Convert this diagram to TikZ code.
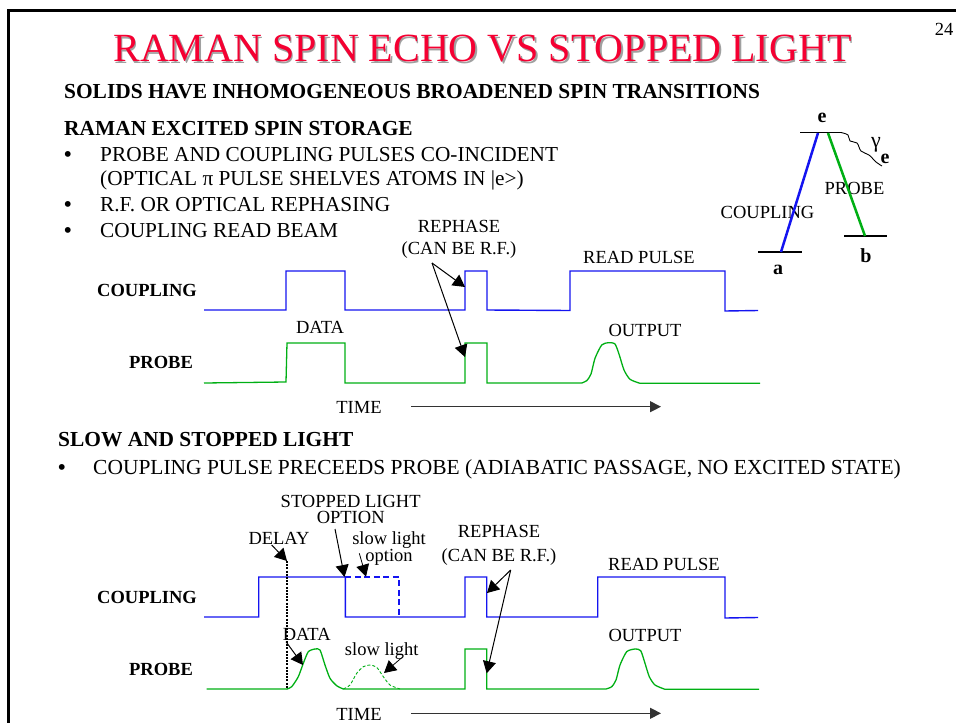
\documentclass[tikz,border=0pt]{standalone}
\usepackage{fontspec}
\setmainfont{Liberation Serif}
\usepackage{xcolor}
\usetikzlibrary{arrows.meta, positioning, calc}
\definecolor{titlered}{RGB}{245, 0, 50}
\definecolor{titleshadow}{RGB}{160, 160, 160}
\definecolor{couplingblue}{RGB}{20, 20, 240}
\definecolor{probegreen}{RGB}{0, 175, 20}

\begin{document}
\begin{tikzpicture}[
    x=1pt, y=-1pt,
    txt/.style={inner sep=0pt, anchor=base, font=\fontsize{18.5}{20}\selectfont},
    body/.style={inner sep=0pt, anchor=base west, font=\fontsize{21.3}{22}\selectfont},
    head/.style={inner sep=0pt, anchor=base west, font=\fontsize{21.4}{22}\selectfont\bfseries},
    lab/.style={inner sep=0pt, anchor=base, font=\fontsize{18.5}{20}\selectfont\bfseries},
    coupling/.style={couplingblue, line width=1.4pt},
    probe/.style={probegreen, line width=1.3pt},
    pointer/.style={-{Triangle[length=12pt, width=13pt]}, black, line width=1pt},
    timearrow/.style={-{Triangle[length=11pt, width=11pt]}, black!80, line width=1.1pt},
    level/.style={black, line width=1.3pt}
]
\useasboundingbox (0,0) rectangle (956,723);

% Frame
\draw[black, line width=3pt] (8,723) -- (8,10) -- (956,10);
\node[txt] (pagenum) at (944,35) {24};

% Title
\node[txt, font=\fontsize{40}{42}\selectfont, titleshadow] (titleback) at (484,63) {RAMAN SPIN ECHO VS STOPPED LIGHT};
\node[txt, font=\fontsize{40}{42}\selectfont, titlered] (title) at (482.5,61.5) {RAMAN SPIN ECHO VS STOPPED LIGHT};

% Raman text
\node[head] (solids) at (64,98) {SOLIDS HAVE INHOMOGENEOUS BROADENED SPIN TRANSITIONS};
\node[head] (raman) at (64,135) {RAMAN EXCITED SPIN STORAGE};
\foreach \name/\ypos/\words in {b1/161/{PROBE AND COUPLING PULSES CO-INCIDENT}, b3/211/{R.F. OR OPTICAL REPHASING}, b4/237/{COUPLING READ BEAM}}{
    \node[head] (\name dot) at (64,\ypos) {•};
    \node[body] (\name) at (100,\ypos) {\words};
}
\node[body] (b2) at (100,185) {(OPTICAL π PULSE SHELVES ATOMS IN |e>)};

% Level diagram
\coordinate (elevelL) at (800,132.5);
\coordinate (elevelR) at (841,132.5);
\draw[level] (elevelL) -- (elevelR);
\coordinate (alevelL) at (758,252);
\coordinate (alevelR) at (802,252);
\draw[level] (alevelL) -- (alevelR);
\coordinate (blevelL) at (844,236);
\coordinate (blevelR) at (887,236);
\draw[level] (blevelL) -- (blevelR);
\coordinate (etop1) at (818,133);
\coordinate (etop2) at (828,133);
\coordinate (abot) at (781,252);
\coordinate (bbot) at (865,236);
\node[txt] (couplingtag) at (767.5,218) {COUPLING};
\node[txt] (probetag) at (854.5,194) {PROBE};
\draw[couplingblue, line width=2.5pt] (abot) -- (etop1);
\draw[probegreen, line width=2.5pt] (bbot) -- (etop2);
\draw[black, line width=0.9pt] plot[smooth, tension=0.6] coordinates {(elevelR) (848,135) (850,141) (857,143) (861,151) (869,155) (876,162) (882,166)};
\node[lab, font=\fontsize{20}{22}\selectfont\bfseries] (elabel) at (822,122.5) {e};
\node[lab, font=\fontsize{20}{22}\selectfont\bfseries] (alabel) at (778,274) {a};
\node[lab, font=\fontsize{20}{22}\selectfont\bfseries] (blabel) at (866,262) {b};
\node[txt, font=\fontsize{22}{24}\selectfont] (gammalabel) at (876,147) {γ};
\node[lab, font=\fontsize{20}{22}\selectfont\bfseries] (esub) at (885,163) {e};

% Upper pulses
\node[lab] (coupling1) at (147,296) {COUPLING};
\node[lab] (probe1) at (161,368) {PROBE};
\draw[coupling] (204,310) -- (286,310) -- (286,271) -- (345,271) -- (345,310) -- (465,310) -- (465,271) -- (487,271) -- (487,310) -- (570,310.5) -- (570,271) -- (725,271) -- (725,311) -- (758,310.5);
\draw[probe] (204,383) -- (286,382) -- (287,343) -- (345,343) -- (345,383) -- (465,383) -- (465,343) -- (487,343) -- (487,383) -- (581.7,383)
    plot[smooth, tension=0.4] coordinates {(581.7,383) (586.7,380.7) (591,374) (595,358.3) (601.7,345) (608.3,342.7) (615,344) (619.3,355) (624,370) (630,379.3) (640,383.3)}
    -- (760,383.3);
\node[txt] (rephase1a) at (459,232) {REPHASE};
\node[txt] (rephase1b) at (459,254) {(CAN BE R.F.)};
\node[txt] (readpulse1) at (639,263) {READ PULSE};
\node[txt] (data1) at (320,333) {DATA};
\node[txt] (output1) at (645,336) {OUTPUT};
\node[txt] (time1) at (359,413) {TIME};
\coordinate (rephase1tail) at (432,263);
\coordinate (rephase1up) at (465,287);
\coordinate (rephase1down) at (465,357);
\draw[pointer] (rephase1tail) -- (rephase1up);
\draw[pointer] (rephase1tail) -- (rephase1down);
\coordinate (time1tail) at (411,406.7);
\coordinate (time1head) at (661,406.7);
\draw[timearrow] (time1tail) -- (time1head);

% Slow light text
\node[head] (slow) at (58,446) {SLOW AND STOPPED LIGHT};
\node[head] (slowdot) at (58,474) {•};
\node[body, font=\fontsize{21.46}{22}\selectfont] (slowtext) at (93,474) {COUPLING PULSE PRECEEDS PROBE (ADIABATIC PASSAGE, NO EXCITED STATE)};

% Lower pulses
\node[lab] (coupling2) at (147,603) {COUPLING};
\node[lab] (probe2) at (161,675) {PROBE};
\draw[coupling] (204,617) -- (258.7,617) -- (258.7,577) -- (345.3,577) -- (345.3,617) -- (465,617) -- (465,577) -- (486.7,577) -- (486.7,617) -- (597.7,617) -- (597.7,577) -- (725,577) -- (725,618) -- (758,617.5);
\draw[couplingblue, line width=2pt, dash pattern=on 6pt off 3.5pt] (345.3,577) -- (399,577) -- (399,617);
\draw[probe] (206.7,689) -- (287,689)
    plot[smooth, tension=0.4] coordinates {(287,689) (291.7,686.7) (298.3,676.7) (303.3,663.3) (308.3,651.7) (315,649) (320,650) (325,665) (330,678.3) (336.7,685.7) (343.3,689)}
    -- (465,689) -- (465,649) -- (486.7,649) -- (486.7,689) -- (606,689)
    plot[smooth, tension=0.4] coordinates {(606,689) (611.7,686.7) (616,680) (620,665) (626.7,651.7) (635,649) (640.7,650.7) (645,663.3) (649.3,676.7) (655,685) (665,689.3)}
    -- (759,689.3);
\draw[probe, line width=0.9pt, densely dashed] plot[smooth, tension=0.4] coordinates {(343.3,689) (350,685) (356.7,673.3) (363.3,666.7) (370,665) (376.7,667.3) (383.3,676.7) (390,685) (400,689)};
\coordinate (delaytop) at (287,561);
\coordinate (delaybot) at (287,689);
\draw[black, line width=2pt, dash pattern=on 2pt off 1.2pt] (delaytop) -- (delaybot);
\node[txt] (stopped) at (350.7,507.7) {STOPPED LIGHT};
\node[txt] (stoppedb) at (350.7,523) {OPTION};
\node[txt] (delay) at (279,544) {DELAY};
\node[txt] (slowopta) at (389,544) {slow light};
\node[txt] (slowoptb) at (389,561.7) {option};
\node[txt] (rephase2a) at (499,537.7) {REPHASE};
\node[txt] (rephase2b) at (499,561.7) {(CAN BE R.F.)};
\node[txt] (readpulse2) at (664,570) {READ PULSE};
\node[txt] (data2) at (306.7,640) {DATA};
\node[txt] (slowlabel) at (381.7,655.7) {slow light};
\node[txt] (output2) at (645,641.7) {OUTPUT};
\node[txt] (time2) at (359,720) {TIME};

% Lower arrows
\coordinate (delaytail) at (271.7,545);
\coordinate (stoptail) at (335,529);
\coordinate (stophead) at (344.5,577);
\coordinate (slowopttail) at (359.3,553.3);
\coordinate (slowopthead) at (366,576.7);
\coordinate (rephase2tail) at (510.7,570);
\coordinate (rephase2up) at (487,593);
\coordinate (rephase2down) at (486.7,673.3);
\coordinate (datatail) at (286,641.7);
\coordinate (datahead) at (303,665);
\coordinate (slowtail) at (401.7,657.7);
\coordinate (slowhead) at (384,673);
\draw[pointer] (delaytail) -- (delaytop);
\draw[pointer] (stoptail) -- (stophead);
\draw[pointer, line width=0.8pt] (slowopttail) -- (slowopthead);
\draw[pointer] (rephase2tail) -- (rephase2up);
\draw[pointer] (rephase2tail) -- (rephase2down);
\draw[pointer] (datatail) -- (datahead);
\draw[pointer, line width=0.8pt] (slowtail) -- (slowhead);
\coordinate (time2tail) at (411,713.3);
\coordinate (time2head) at (661,713.3);
\draw[timearrow] (time2tail) -- (time2head);
\end{tikzpicture}
\end{document}
